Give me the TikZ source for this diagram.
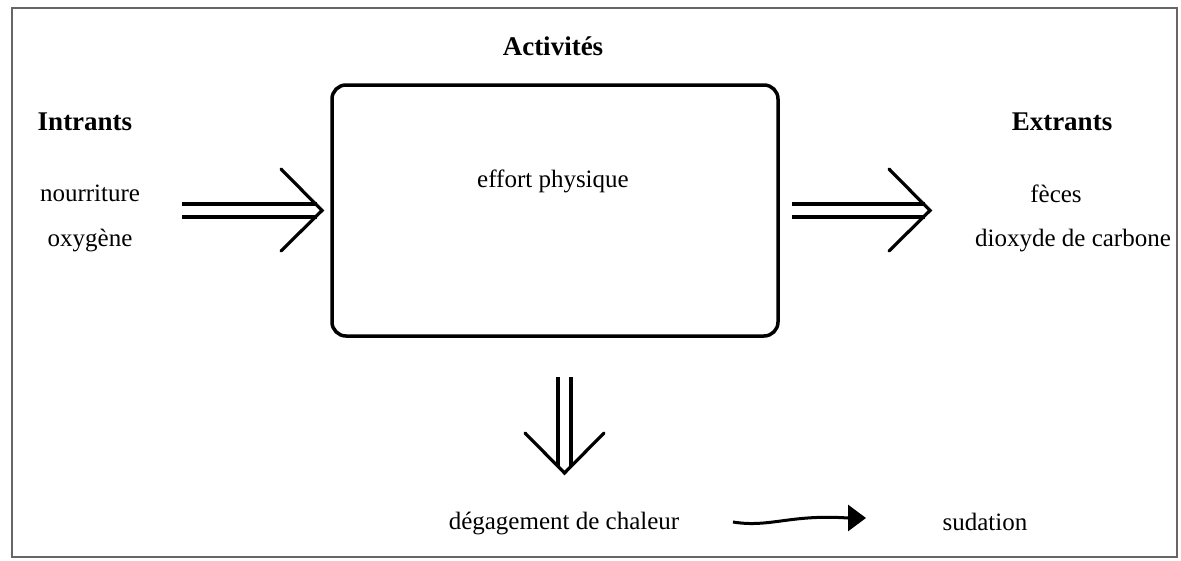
\documentclass[tikz,border=0pt]{standalone}
\usepackage{fontspec}
\setmainfont{Liberation Serif}
\usetikzlibrary{arrows.meta}
\begin{document}
\begin{tikzpicture}[x=1pt,y=-1pt,
  lbl/.style={font=\fontsize{25}{30}\selectfont, inner sep=0pt},
  ttl/.style={font=\fontsize{27}{32}\selectfont\bfseries, inner sep=0pt},
  dbl/.style={line width=3.2pt},
  chev/.style={line width=3.2pt, line cap=round, line join=miter}]
\useasboundingbox (0,0) rectangle (1181,560);
\draw[gray!80!black, line width=2.5pt] (12,8) rectangle (1177,557);
\node[draw, line width=3.5pt, rounded corners=14pt, minimum width=446pt, minimum height=251pt, inner sep=0pt] (act) at (555,210.5) {};
\node[ttl] (tact) at (553,46) {Activités};
\node[ttl] (tin) at (85,122) {Intrants};
\node[ttl] (tout) at (1062,122) {Extrants};
\node[lbl] (nour) at (90,193) {nourriture};
\node[lbl] (oxy) at (90,241) {oxygène};
\node[lbl] (eff) at (553,181) {effort physique};
\node[lbl] (fec) at (1056,194) {fèces};
\node[lbl] (dio) at (1073,241) {dioxyde de carbone};
\node[lbl] (deg) at (564,523) {dégagement de chaleur};
\node[lbl] (sud) at (985,522) {sudation};
% left double arrow
\coordinate (la) at (182,204); \coordinate (lb) at (182,217);
\draw[dbl] (la) -- (317,204);
\draw[dbl] (lb) -- (317,217);
\coordinate (lt) at (322,210.5);
\draw[chev] (281,169) -- (lt) -- (281,251);
% right double arrow
\coordinate (ra) at (792,204); \coordinate (rb) at (792,217);
\draw[dbl] (ra) -- (925,204);
\draw[dbl] (rb) -- (925,217);
\coordinate (rt) at (930,210.5);
\draw[chev] (889,169) -- (rt) -- (889,251);
% down double arrow
\draw[dbl] (558,377) -- (558,466);
\draw[dbl] (571,377) -- (571,466);
\coordinate (dt) at (564.5,473);
\draw[chev] (525,433) -- (dt) -- (604,433);
% wavy arrow
\coordinate (w0) at (733,522);
\coordinate (w1) at (848,518);
\draw[line width=3pt, -{Triangle[length=18pt,width=26pt]}] (w0) .. controls (770,528) and (790,514) .. (w1) -- (866,518);
\end{tikzpicture}
\end{document}
